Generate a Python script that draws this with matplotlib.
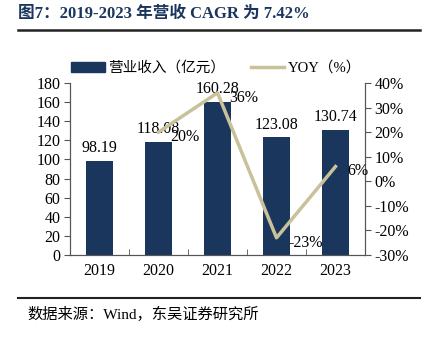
import numpy as np
import matplotlib.pyplot as plt
from matplotlib.lines import Line2D
from matplotlib.patches import Patch

# ============================================================================ #
# DADOS
# ============================================================================ #

anos = ["2019", "2020", "2021", "2022", "2023"]
receita = [98.19, 118.08, 160.28, 123.08, 130.74]
yoy = [np.nan, 20, 36, -23, 6]
yoy_rotulos = ["", "20%", "36%", "-23%", "6%"]

titulo = "图7：2019-2023 年营收 CAGR 为 7.42%"
fonte = "数据来源：Wind，东吴证券研究所"

FAM = ["Liberation Serif", "Noto Sans CJK SC"]
AZUL = "#1b365d"
BEGE = "#c9c19a"
plt.rcParams["font.family"] = FAM

fig = plt.figure(figsize=(4.28, 3.38), dpi=100)
ax = fig.add_axes([70 / 428, 1 - 255 / 338, 295 / 428, 172 / 338])
ax2 = ax.twinx()

x = np.arange(len(anos))
ax.bar(x, receita, width=0.45, color=AZUL, zorder=2)
for xi, v in zip(x, receita):
    ax.text(xi, v + 5, f"{v:.2f}", ha="center", va="bottom", fontsize=11.5)

ax.set_xlim(-0.5, len(anos) - 0.5)
ax.set_ylim(0, 180)
ax.set_yticks(range(0, 181, 20))
ax.set_xticks(x)
ax.set_xticklabels(anos)
ax.set_xticks(np.arange(0.5, len(anos) - 1, 1), minor=True)
ax.tick_params(axis="x", which="major", length=0, labelsize=11.5, pad=6)
ax.tick_params(axis="x", which="minor", direction="in", length=4, color="#555555")
ax.tick_params(axis="y", labelsize=11.5, length=4, color="#555555", pad=3)

ax2.plot(x, yoy, color=BEGE, lw=2.5, zorder=3)
ax2.set_ylim(-30, 40)
ax2.set_yticks(range(-30, 41, 10))
ax2.set_yticklabels([f"{t}%" for t in range(-30, 41, 10)])
ax2.tick_params(axis="y", labelsize=11.5, length=4, color="#555555", pad=3)
for xi, v, r in zip(x, yoy, yoy_rotulos):
    if r:
        ax2.text(xi + 0.2, v - 2, r, ha="left", va="center", fontsize=11.5)

for a in (ax, ax2):
    a.spines["top"].set_visible(False)
    for s in ("left", "right", "bottom"):
        a.spines[s].set_color("#555555")

# Legenda
handles = [Patch(color=AZUL), Line2D([], [], color=BEGE, lw=2.5)]
fig.legend(handles, ["营业收入（亿元）", "YOY（%）"], loc="center",
           bbox_to_anchor=(216 / 428, 1 - 68 / 338), ncol=2, frameon=False,
           handlelength=2.3, columnspacing=1.8, handletextpad=0.2,
           prop={"family": FAM, "size": 10.5})

# Título e fonte
fig.text(18 / 428, 1 - 14 / 338, titulo, fontsize=12, fontweight="bold",
         color=AZUL, va="center", ha="left")
fig.add_artist(Line2D([18 / 428, 420 / 428], [1 - 30 / 338] * 2, color="#222222", lw=1.8))
fig.add_artist(Line2D([18 / 428, 420 / 428], [1 - 298 / 338] * 2, color="#222222", lw=1.5))
fig.text(27 / 428, 1 - 314 / 338, fonte, fontsize=11, va="center", ha="left")

fig.savefig("out.png", dpi=100)
